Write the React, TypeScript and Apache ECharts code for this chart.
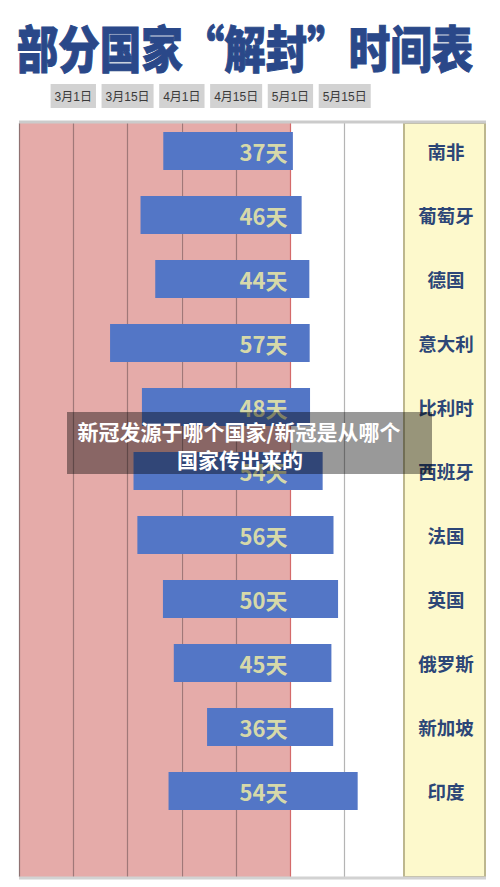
import React, { useEffect, useRef } from "react";
import * as echarts from "echarts";

// ---- data ----
const countries = ["南非", "葡萄牙", "德国", "意大利", "比利时", "西班牙", "法国", "英国", "俄罗斯", "新加坡", "印度"];
// lockdown length in days (bar label)
const durations = [37, 46, 44, 57, 48, 54, 56, 50, 45, 36, 54];
// lockdown start, in days after 3月1日 (on the chart's half-month scale)
const startOffsets = [25.7, 19.2, 23.4, 10.5, 19.6, 17.2, 18.3, 25.6, 28.7, 38.2, 27.2];
// top axis tick labels, one per half-month gridline
const dateLabels = ["3月1日", "3月15日", "4月1日", "4月15日", "5月1日", "5月15日"];
const halfMonth = 15.5; // days between gridlines
const labelAnchorIndex = 4; // bar labels are right-aligned on the 5月1日 line

const titleText = "部分国家“解封”时间表";
const captionLines = ["新冠发源于哪个国家/新冠是从哪个", "国家传出来的"];

const FONT = '"Noto Sans CJK SC", "Noto Sans", sans-serif';

export default function App() {
  const ref = useRef<HTMLDivElement>(null);

  useEffect(() => {
    if (!ref.current) return;
    const chart = echarts.init(ref.current, undefined, { renderer: "svg" });
    const xMin = -halfMonth;
    const xMax = halfMonth * 6;

    const option: any = {
      animation: false,
      backgroundColor: "#ffffff",
      textStyle: { fontFamily: FONT },
      grid: [
        { left: 19, right: 101, top: 123, bottom: 10, containLabel: false },
        { left: 19, right: 101, top: 119, height: 704, containLabel: false },
      ],
      xAxis: [
        {
          type: "value",
          gridIndex: 0,
          position: "top",
          min: xMin,
          max: xMax,
          interval: halfMonth,
          axisLine: { show: false },
          axisTick: { show: false },
          axisLabel: {
            show: true,
            showMinLabel: false,
            showMaxLabel: false,
            margin: 15,
            color: "#3a3a3a",
            fontSize: 12,
            lineHeight: 13,
            fontFamily: '"Liberation Sans", "Noto Sans CJK SC", sans-serif',
            backgroundColor: "#d2d2d2",
            padding: [6, 4, 5, 4],
            formatter: (v: number) => {
              const i = Math.round(v / halfMonth);
              return i >= 0 && i < dateLabels.length ? dateLabels[i] : "";
            },
          },
          splitArea: {
            show: true,
            areaStyle: {
              color: ["#e5aba9", "#e5aba9", "#e5aba9", "#e5aba9", "#e5aba9", "#ffffff", "#ffffff"],
            },
          },
          splitLine: {
            show: true,
            lineStyle: {
              width: 1.2,
              color: ["#8f7272", "#a07878", "#a07878", "#a07878", "#a07878", "#d46a6a", "#b4b4b4", "rgba(0,0,0,0)"],
            },
          },
        },
        {
          type: "value",
          gridIndex: 1,
          min: xMin,
          max: xMax,
          interval: halfMonth,
          show: false,
        },
      ],
      yAxis: [
        { type: "value", gridIndex: 0, min: 0, max: 1, show: false },
        {
          type: "category",
          gridIndex: 1,
          data: countries,
          inverse: true,
          position: "right",
          offset: 5,
          z: 10,
          axisLine: { show: false },
          axisTick: { show: false },
          splitLine: { show: false },
          axisLabel: {
            show: true,
            margin: 42,
            align: "center",
            color: "#2c4677",
            fontSize: 18.5,
            fontWeight: "bold",
            fontFamily: FONT,
          },
        },
      ],
      series: [
        { type: "bar", xAxisIndex: 0, yAxisIndex: 0, data: [], silent: true },
        {
          name: "start",
          type: "bar",
          xAxisIndex: 1,
          yAxisIndex: 1,
          stack: "period",
          barWidth: 38,
          silent: true,
          itemStyle: { color: "rgba(0,0,0,0)" },
          data: startOffsets,
        },
        {
          name: "days",
          type: "bar",
          xAxisIndex: 1,
          yAxisIndex: 1,
          stack: "period",
          barWidth: 38,
          itemStyle: { color: "#5376c6" },
          data: durations,
        },
        {
          name: "daysLabel",
          type: "scatter",
          xAxisIndex: 1,
          yAxisIndex: 1,
          symbolSize: 0,
          z: 5,
          data: countries.map((c) => [labelAnchorIndex * halfMonth, c]),
          label: {
            show: true,
            position: "left",
            distance: 3,
            color: "#fbf5a2",
            fontSize: 22,
            fontWeight: "bold",
            fontFamily: FONT,
            formatter: (p: any) => `${durations[p.dataIndex]}天`,
          },
        },
      ],
      graphic: [
        {
          type: "rect",
          z: 1,
          shape: { x: 404, y: 123, width: 81, height: 754 },
          style: { fill: "#fdf9cc", stroke: "#bdb78e", lineWidth: 2 },
          silent: true,
        },
        {
          type: "line",
          z: 2,
          shape: { x1: 19, y1: 122, x2: 486, y2: 122 },
          style: { stroke: "#cbcbcb", lineWidth: 3 },
          silent: true,
        },
        {
          type: "line",
          z: 2,
          shape: { x1: 19, y1: 878, x2: 486, y2: 878 },
          style: { stroke: "#d2d2d2", lineWidth: 3 },
          silent: true,
        },
        {
          type: "text",
          x: 245,
          y: 46,
          scaleY: 1.2,
          z: 3,
          style: {
            text: titleText,
            fill: "#2a4889",
            font: `900 41.5px ${FONT}`,
            align: "center",
            verticalAlign: "middle",
            stroke: "#2a4889",
            lineWidth: 0.8,
          },
          silent: true,
        },
        {
          type: "rect",
          z: 100,
          shape: { x: 67, y: 412, width: 365, height: 62 },
          style: { fill: "rgba(0,0,0,0.4)" },
          silent: true,
        },
        {
          type: "text",
          z: 101,
          x: 239,
          y: 431,
          style: {
            text: captionLines[0],
            fill: "#ffffff",
            font: `bold 21px ${FONT}`,
            align: "center",
            verticalAlign: "middle",
          },
          silent: true,
        },
        {
          type: "text",
          z: 101,
          x: 240,
          y: 459,
          style: {
            text: captionLines[1],
            fill: "#ffffff",
            font: `bold 21px ${FONT}`,
            align: "center",
            verticalAlign: "middle",
          },
          silent: true,
        },
      ],
    };

    chart.setOption(option);
    return () => chart.dispose();
  }, []);

  return (
    <div
      ref={ref}
      style={{ position: "fixed", left: 0, top: 0, width: 500, height: 887, overflow: "hidden" }}
    />
  );
}
